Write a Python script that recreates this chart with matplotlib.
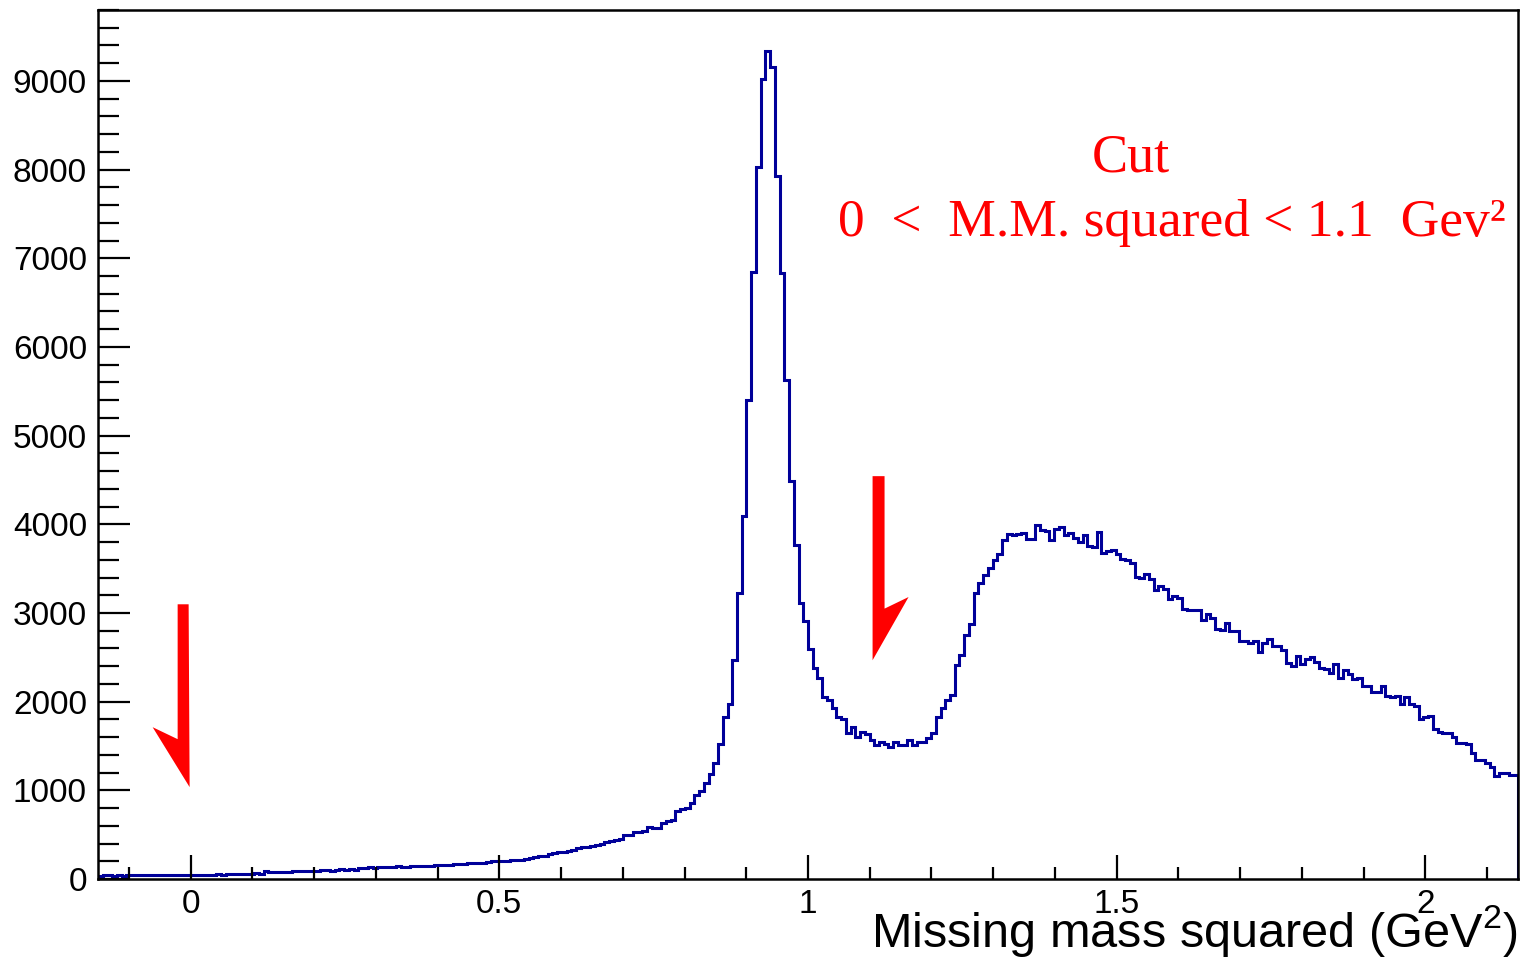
import numpy as np
import matplotlib.pyplot as plt
from matplotlib.patches import Polygon

plt.rcParams['font.family'] = ['Liberation Sans', 'DejaVu Sans']
plt.rcParams['mathtext.fontset'] = 'custom'
plt.rcParams['mathtext.rm'] = 'Liberation Sans'

# histogram: 300 bins from -0.15 to 2.15 GeV^2
x_min, x_max, n_bins = -0.15, 2.15, 300
counts = [
    38, 42, 40, 37, 41, 39, 43, 40, 44, 41,
    42, 45, 40, 44, 46, 43, 41, 47, 45, 44,
    48, 46, 42, 50, 47, 52, 49, 53, 51, 55,
    58, 54, 60, 66, 62, 88, 84, 79, 82, 78,
    84, 88, 86, 92, 89, 95, 90, 96, 100, 94,
    104, 108, 102, 110, 107, 128, 122, 130, 126, 132,
    135, 130, 138, 142, 137, 140, 145, 150, 146, 152,
    148, 158, 155, 162, 157, 165, 170, 166, 175, 180,
    176, 185, 190, 198, 204, 200, 208, 212, 218, 214,
    225, 232, 245, 258, 265, 280, 295, 302, 310, 318,
    332, 345, 358, 365, 372, 388, 400, 412, 425, 440,
    452, 496, 500, 533, 530, 545, 582, 571, 575, 634,
    657, 660, 768, 784, 800, 852, 946, 995, 1078, 1183,
    1303, 1528, 1828, 1979, 2467, 3229, 4097, 5407, 6845, 8035,
    9026, 9341, 9158, 7930, 6830, 5629, 4491, 3766, 3112, 2906,
    2591, 2380, 2272, 2052, 2016, 1923, 1828, 1810, 1648, 1716,
    1596, 1659, 1633, 1566, 1510, 1547, 1528, 1483, 1547, 1510,
    1510, 1566, 1510, 1547, 1547, 1585, 1641, 1828, 1923, 2023,
    2073, 2410, 2530, 2748, 2880, 3229, 3338, 3424, 3511, 3601,
    3661, 3819, 3886, 3883, 3886, 3905, 3838, 3838, 3995, 3931,
    3923, 3819, 3950, 3968, 3875, 3905, 3845, 3800, 3875, 3751,
    3743, 3912, 3678, 3698, 3706, 3669, 3612, 3601, 3567, 3405,
    3394, 3443, 3379, 3263, 3300, 3274, 3154, 3191, 3169, 3041,
    3030, 3030, 3030, 2920, 2983, 2940, 2824, 2812, 2887, 2793,
    2793, 2681, 2681, 2662, 2681, 2560, 2662, 2711, 2632, 2632,
    2587, 2436, 2407, 2515, 2429, 2478, 2504, 2448, 2385, 2373,
    2324, 2422, 2272, 2354, 2317, 2261, 2272, 2174, 2174, 2106,
    2106, 2174, 2061, 2053, 2061, 1971, 2053, 1979, 1952, 1799,
    1828, 1836, 1686, 1659, 1652, 1652, 1596, 1536, 1536, 1528,
    1416, 1340, 1340, 1303, 1265, 1160, 1197, 1190, 1171, 1171,
]
major_x = [0, 0.5, 1, 1.5, 2]
major_x_labels = ['0', '0.5', '1', '1.5', '2']
major_y = [0, 1000, 2000, 3000, 4000, 5000, 6000, 7000, 8000, 9000]

edges = np.linspace(x_min, x_max, n_bins + 1)

W, H = 1527, 960
fig = plt.figure(figsize=(W / 100, H / 100), dpi=100)
ax = fig.add_axes([98 / W, 1 - 879 / H, 1420 / W, 869 / H])

ax.stairs(counts, edges, color='#000099', lw=2.2)

ax.set_xlim(x_min, x_max)
ax.set_ylim(0, 9800)
ax.set_xticks(major_x, labels=major_x_labels)
ax.set_xticks(np.arange(-0.1, 2.15, 0.1), minor=True)
ax.set_yticks(major_y)
ax.set_yticks(np.arange(0, 9801, 200), minor=True)

ax.tick_params(axis='both', which='both', direction='in', width=1.6,
               color='black', labelsize=24)
ax.tick_params(axis='y', which='major', length=23, pad=8)
ax.tick_params(axis='y', which='minor', length=15)
ax.tick_params(axis='x', which='major', length=17, pad=7)
ax.tick_params(axis='x', which='minor', length=8.5)
for s in ax.spines.values():
    s.set_linewidth(1.8)

ax.text(1.0, -0.079, 'Missing mass squared (GeV$^{2}$)', transform=ax.transAxes,
        ha='right', va='baseline', fontsize=35)

# red cut arrows (harpoon style)
left_arrow = [(-0.0032, 3098), (-0.021, 3098), (-0.021, 1577),
              (-0.0615, 1712), (-0.0016, 1036)]
right_arrow = [(1.1046, 4543), (1.124, 4543), (1.124, 3049),
               (1.1629, 3180), (1.1046, 2467)]
for pts in (left_arrow, right_arrow):
    ax.add_patch(Polygon(pts, closed=True, color='#ff0000', lw=0))

serif = ['Liberation Serif', 'DejaVu Serif']
fig.text(1131 / W, 1 - 172 / H, 'Cut', color='#ff0000', fontsize=39,
         family=serif, ha='center', va='baseline')
fig.text(838 / W, 1 - 236 / H, '0  <  M.M. squared < 1.1  Gev²',
         color='#ff0000', fontsize=38.5, family=serif, ha='left', va='baseline')

fig.savefig('out.png', dpi=100)
